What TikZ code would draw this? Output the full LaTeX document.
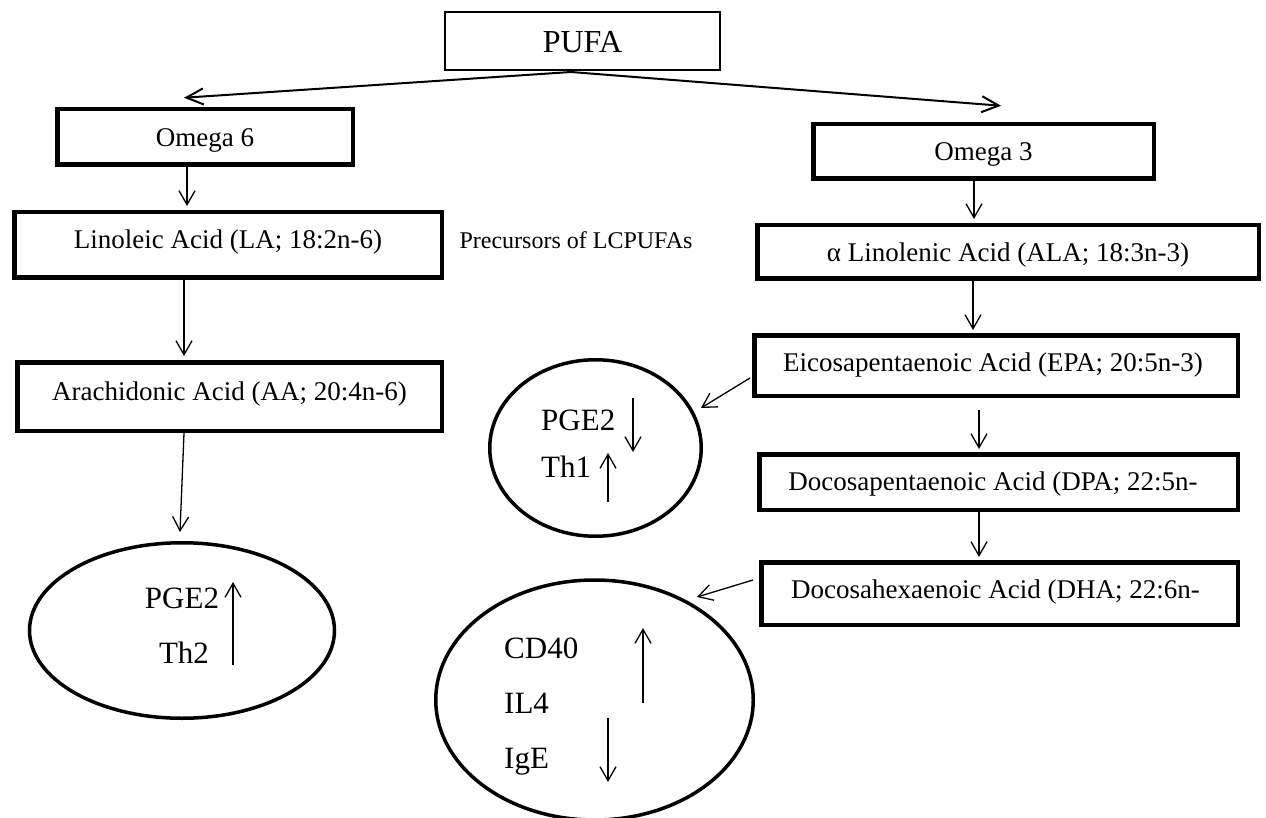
\documentclass[tikz,border=0pt]{standalone}
\usepackage{fontspec}
\setmainfont{Liberation Serif}
\usetikzlibrary{arrows.meta,shapes.geometric,calc}
\tikzset{
  pbox/.style={draw, line width=2pt, inner sep=0pt},
  tbox/.style={draw, line width=4.5pt, inner sep=0pt},
  oval/.style={draw, ellipse, line width=3.5pt, inner sep=0pt},
  btext/.style={font=\fontsize{27}{31}\selectfont, anchor=base, inner sep=0pt},
  ptext/.style={font=\fontsize{32}{38}\selectfont, anchor=base, inner sep=0pt},
  etext/.style={font=\fontsize{31}{36}\selectfont, anchor=base, inner sep=0pt},
  conn/.style={line width=1.3pt, -{Straight Barb[length=14pt,width=16pt]}},
  topconn/.style={line width=2pt, -{Straight Barb[length=17pt,width=16pt]}},
}
\begin{document}
\begin{tikzpicture}[x=1pt,y=-1pt]
\useasboundingbox[fill=white] (0,0) rectangle (1266,818);

% boxes
\node[pbox, minimum width=275pt, minimum height=58pt] (pufa) at (582.5,41) {};
\node[tbox, minimum width=295.5pt, minimum height=55.5pt] (om6) at (205,137) {};
\node[tbox, minimum width=427.5pt, minimum height=65.5pt] (la) at (228,245) {};
\node[tbox, minimum width=424.5pt, minimum height=68.5pt] (aa) at (229.5,396.5) {};
\node[tbox, minimum width=340.5pt, minimum height=54.5pt] (om3) at (983.5,151.5) {};
\node[tbox, minimum width=501.5pt, minimum height=53.5pt] (ala) at (1008,252) {};
\node[tbox, minimum width=483.5pt, minimum height=60.5pt] (epa) at (996,365.5) {};
\node[tbox, minimum width=478.5pt, minimum height=55.5pt] (dpa) at (998.5,482) {};
\node[tbox, minimum width=476.5pt, minimum height=62.5pt] (dha) at (999.5,593.5) {};

% ovals
\node[oval, minimum width=305pt, minimum height=175.5pt] (ellL) at (182,630.5) {};
\node[oval, minimum width=211.5pt, minimum height=176.5pt] (ellS) at (595.5,448) {};
\node[oval, minimum width=317.5pt, minimum height=240pt] (ellB) at (594.5,700) {};

% texts
\node[ptext] (pufat) at (582.5,52.5) {PUFA};
\node[btext] (om6t) at (205,146.5) {Omega 6};
\node[btext] (om3t) at (983.5,160.5) {Omega 3};
\node[btext] (lat) at (228,248.5) {Linoleic Acid (LA; 18:2n-6)};
\node[btext, font=\fontsize{24}{28}\selectfont] (prec) at (576,248.5) {Precursors of LCPUFAs};
\node[btext] (alat) at (1008,261.5) {α Linolenic Acid (ALA; 18:3n-3)};
\node[btext] (aat) at (229.5,400.5) {Arachidonic Acid (AA; 20:4n-6)};
\node[btext] (epat) at (993,371.5) {Eicosapentaenoic Acid (EPA; 20:5n-3)};
\node[btext] (dpat) at (993,490.5) {Docosapentaenoic Acid (DPA; 22:5n-};
\node[btext] (dhat) at (995.5,598.5) {Docosahexaenoic Acid (DHA; 22:6n-};

\node[etext] (pgeL) at (182,608) {PGE2};
\node[etext] (th2) at (184,663) {Th2};
\node[etext, anchor=base west] (pgeS) at (541,430) {PGE2};
\node[etext, anchor=base west] (th1) at (541,477) {Th1};
\node[etext, anchor=base west] (cd40) at (504,658) {CD40};
\node[etext, anchor=base west] (il4) at (504,713) {IL4};
\node[etext, anchor=base west] (ige) at (504,768) {IgE};

% connectors
\draw[topconn] ($(pufa.south)+(-11.5,1)$) -- ($(om6.north)+(-21,-9.25)$);
\draw[topconn] ($(pufa.south)+(-11.5,1)$) -- ($(om3.north)+(17.5,-16.25)$);
\draw[conn] ($(om6.south)+(-18,0)$) -- ($(la.north)+(-41,-4)$);
\draw[conn] ($(la.south)+(-44,0)$) -- ($(aa.north)+(-45.5,-4)$);
\draw[conn] ($(aa.south)+(-45.5,0)$) -- ($(ellL.north)+(-2,-9)$);
\draw[conn] ($(om3.south)+(-9.5,0)$) -- ($(ala.north)+(-34,-4)$);
\draw[conn] ($(ala.south)+(-35,0)$) -- ($(epa.north)+(-23,-3)$);
\draw[conn] ($(epa.west)+(-2,12.5)$) -- ($(ellS.center)+(105.5,-40)$);
\draw[conn] ($(epa.south)+(-17,12)$) -- ($(dpa.north)+(-19.5,-3)$);
\draw[conn] ($(dpa.south)+(-19.5,0)$) -- ($(dha.north)+(-20.5,-3)$);
\draw[conn] ($(dha.west)+(-6,-13.5)$) -- ($(ellB.center)+(102.5,-103)$);

% up / down indicator arrows
\coordinate (uL1) at (233,665); \coordinate (uL2) at (233,582);
\coordinate (dS1) at (633,398); \coordinate (dS2) at (633,452);
\coordinate (uS1) at (608,502); \coordinate (uS2) at (608,453);
\coordinate (uB1) at (643,703); \coordinate (uB2) at (643,628);
\coordinate (dB1) at (608,718); \coordinate (dB2) at (608,782);
\draw[conn] (uL1) -- (uL2);
\draw[conn] (dS1) -- (dS2);
\draw[conn] (uS1) -- (uS2);
\draw[conn] (uB1) -- (uB2);
\draw[conn] (dB1) -- (dB2);
\end{tikzpicture}
\end{document}
